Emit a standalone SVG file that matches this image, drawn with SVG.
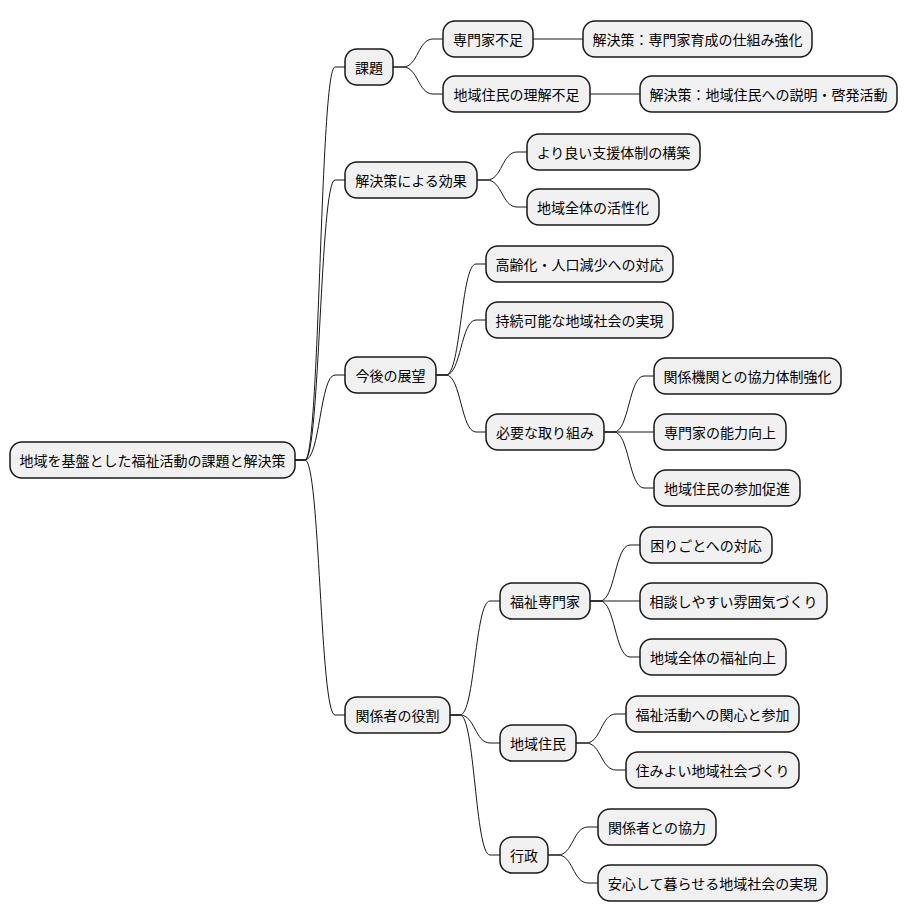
<svg xmlns="http://www.w3.org/2000/svg" width="908" height="921" viewBox="0 0 908 921">
<style>
.n rect{fill:#f1f1f1;stroke:#181818;stroke-width:1.5}
.n text{font-family:"Noto Sans CJK JP","Noto Sans CJK SC",sans-serif;font-size:14px;fill:#000;text-anchor:middle;dominant-baseline:central}
#edges path{fill:none;stroke:#181818;stroke-width:1}
</style>
<rect width="908" height="921" fill="#fff"/>
<g id="edges">
<path d="M295 460H305C320 460 320 67 335 67H345"/>
<path d="M295 460H305C320 460 320 180 335 180H345"/>
<path d="M295 460H305C320 460 320 375 335 375H345"/>
<path d="M295 460H305C320 460 320 715 335 715H345"/>
<path d="M393 67H403C418 67 418 39 433 39H443"/>
<path d="M393 67H403C418 67 418 94 433 94H443"/>
<path d="M533 39H583"/>
<path d="M590 94H640"/>
<path d="M477 180H487C502 180 502 152 517 152H527"/>
<path d="M477 180H487C502 180 502 207 517 207H527"/>
<path d="M436 375H446C461 375 461 264 476 264H486"/>
<path d="M436 375H446C461 375 461 320 476 320H486"/>
<path d="M436 375H446C461 375 461 432 476 432H486"/>
<path d="M604 432H614C629 432 629 376 644 376H654"/>
<path d="M604 432H654"/>
<path d="M604 432H614C629 432 629 488 644 488H654"/>
<path d="M450 715H460C475 715 475 601 490 601H500"/>
<path d="M450 715H460C475 715 475 743 490 743H500"/>
<path d="M450 715H460C475 715 475 855 490 855H500"/>
<path d="M590 601H600C615 601 615 545 630 545H640"/>
<path d="M590 601H640"/>
<path d="M590 601H600C615 601 615 657 630 657H640"/>
<path d="M576 743H586C601 743 601 714 616 714H626"/>
<path d="M576 743H586C601 743 601 770 616 770H626"/>
<path d="M548 855H558C573 855 573 827 588 827H598"/>
<path d="M548 855H558C573 855 573 883 588 883H598"/>
</g>
<g id="root" class="n"><rect x="10" y="442" width="285" height="36" rx="12"/><text x="152.5" y="460">地域を基盤とした福祉活動の課題と解決策</text></g>
<g id="n1" class="n"><rect x="345" y="49" width="48" height="36" rx="12"/><text x="369" y="67">課題</text></g>
<g id="n11" class="n"><rect x="443" y="21" width="90" height="36" rx="12"/><text x="488" y="39">専門家不足</text></g>
<g id="n111" class="n"><rect x="583" y="21" width="229" height="36" rx="12"/><text x="697.5" y="39">解決策：専門家育成の仕組み強化</text></g>
<g id="n12" class="n"><rect x="443" y="76" width="147" height="36" rx="12"/><text x="516.5" y="94">地域住民の理解不足</text></g>
<g id="n121" class="n"><rect x="640" y="76" width="257" height="36" rx="12"/><text x="768.5" y="94">解決策：地域住民への説明・啓発活動</text></g>
<g id="n2" class="n"><rect x="345" y="162" width="132" height="36" rx="12"/><text x="411" y="180">解決策による効果</text></g>
<g id="n21" class="n"><rect x="527" y="134" width="173" height="36" rx="12"/><text x="613.5" y="152">より良い支援体制の構築</text></g>
<g id="n22" class="n"><rect x="527" y="189" width="132" height="36" rx="12"/><text x="593" y="207">地域全体の活性化</text></g>
<g id="n3" class="n"><rect x="345" y="357" width="91" height="36" rx="12"/><text x="390.5" y="375">今後の展望</text></g>
<g id="n31" class="n"><rect x="486" y="246" width="187" height="36" rx="12"/><text x="579.5" y="264">高齢化・人口減少への対応</text></g>
<g id="n32" class="n"><rect x="486" y="302" width="187" height="36" rx="12"/><text x="579.5" y="320">持続可能な地域社会の実現</text></g>
<g id="n33" class="n"><rect x="486" y="414" width="118" height="36" rx="12"/><text x="545" y="432">必要な取り組み</text></g>
<g id="n331" class="n"><rect x="654" y="358" width="187" height="36" rx="12"/><text x="747.5" y="376">関係機関との協力体制強化</text></g>
<g id="n332" class="n"><rect x="654" y="414" width="132" height="36" rx="12"/><text x="720" y="432">専門家の能力向上</text></g>
<g id="n333" class="n"><rect x="654" y="470" width="146" height="36" rx="12"/><text x="727" y="488">地域住民の参加促進</text></g>
<g id="n4" class="n"><rect x="345" y="697" width="105" height="36" rx="12"/><text x="397.5" y="715">関係者の役割</text></g>
<g id="n41" class="n"><rect x="500" y="583" width="90" height="36" rx="12"/><text x="545" y="601">福祉専門家</text></g>
<g id="n411" class="n"><rect x="640" y="527" width="132" height="36" rx="12"/><text x="706" y="545">困りごとへの対応</text></g>
<g id="n412" class="n"><rect x="640" y="583" width="187" height="36" rx="12"/><text x="733.5" y="601">相談しやすい雰囲気づくり</text></g>
<g id="n413" class="n"><rect x="640" y="639" width="146" height="36" rx="12"/><text x="713" y="657">地域全体の福祉向上</text></g>
<g id="n42" class="n"><rect x="500" y="725" width="76" height="36" rx="12"/><text x="538" y="743">地域住民</text></g>
<g id="n421" class="n"><rect x="626" y="696" width="173" height="36" rx="12"/><text x="712.5" y="714">福祉活動への関心と参加</text></g>
<g id="n422" class="n"><rect x="626" y="752" width="173" height="36" rx="12"/><text x="712.5" y="770">住みよい地域社会づくり</text></g>
<g id="n43" class="n"><rect x="500" y="837" width="48" height="36" rx="12"/><text x="524" y="855">行政</text></g>
<g id="n431" class="n"><rect x="598" y="809" width="118" height="36" rx="12"/><text x="657" y="827">関係者との協力</text></g>
<g id="n432" class="n"><rect x="598" y="865" width="229" height="36" rx="12"/><text x="712.5" y="883">安心して暮らせる地域社会の実現</text></g>
</svg>
